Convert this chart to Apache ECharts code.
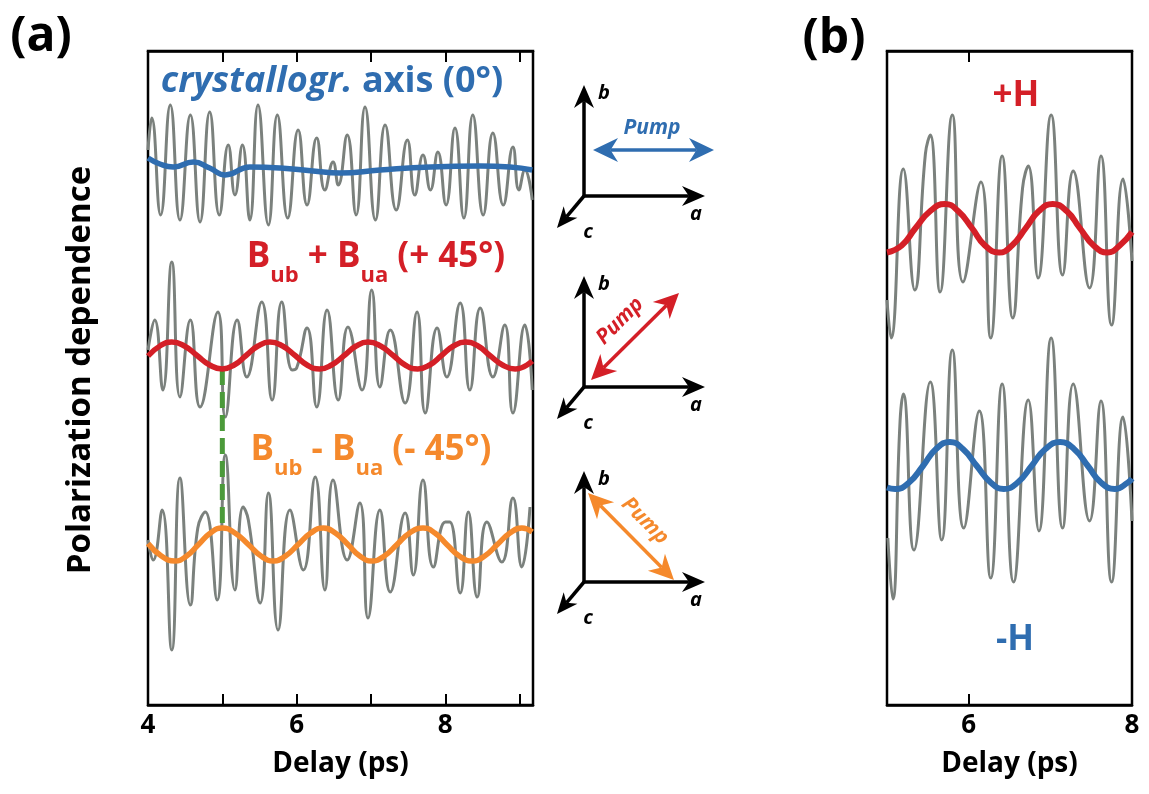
<!DOCTYPE html>
<html>
<head>
<meta charset="utf-8">
<script src="https://cdn.jsdelivr.net/npm/echarts/dist/echarts.min.js"></script>
<style>
  html, body { margin: 0; padding: 0; background: #fff; }
  #chartmain { width: 1149px; height: 794px; }
</style>
</head>
<body>
<div id="chartmain"></div>
<script>
// ---- data: [delay (ps), signal relative to the trace baseline (arb. u.)] ----

// panel (a), top: crystallographic axis (0°)
const grayCrystal = [
  [4.00, 3], [4.05, 9.4], [4.17, -10], [4.30, 12], [4.43, -11], [4.57, 10], [4.70, -11.4], [4.83, 10.6],
  [4.96, -10], [5.08, 4], [5.17, -6], [5.27, 4], [5.37, -11], [5.48, 12], [5.62, -12], [5.74, 10],
  [5.88, -10.6], [6.02, 7], [6.14, -8], [6.27, 5.4], [6.38, -5], [6.49, 0.6], [6.56, -4], [6.68, 6],
  [6.80, -10], [6.92, 11.6], [7.06, -11], [7.19, 8], [7.34, -9], [7.49, 5], [7.59, -6], [7.70, 2],
  [7.80, -5], [7.90, 2.6], [8.01, -8], [8.13, 7.4], [8.25, -10.6], [8.37, 10], [8.51, -10], [8.64, 6.4],
  [8.78, -8], [8.91, 3.6], [8.99, -5], [9.07, -1], [9.17, -7]
];
const fitCrystal = [
  [4.00, 1.4], [4.16, 0.2], [4.34, -0.4], [4.61, 0.6], [4.83, -0.6], [5.04, -2], [5.37, -0.4], [5.78, -0.6],
  [6.22, -1.2], [6.58, -1.6], [7.12, -1], [7.80, -0.4], [8.47, -0.2], [8.87, -0.4], [9.17, -1]
];

// panel (a), middle: Bub + Bua (+45°)
const grayPlus45 = [
  [4.00, 1], [4.09, 7], [4.20, -7], [4.32, 18.6], [4.43, -8.4], [4.57, 7], [4.70, -10.4], [4.94, 8.6],
  [5.04, -12.4], [5.20, 7], [5.33, -4.4], [5.53, 10.6], [5.67, -9], [5.80, 10.6], [5.94, -3], [6.00, -2.6],
  [6.14, 5.4], [6.27, -10.4], [6.41, 9], [6.56, -9], [6.69, 5.6], [6.88, -7], [7.01, 13], [7.12, -6.4],
  [7.26, 5], [7.46, -9.6], [7.62, 8.6], [7.73, -11.6], [7.89, 5.4], [8.02, -4.4], [8.20, 10.4], [8.33, -7],
  [8.47, 9.4], [8.64, -4.4], [8.80, 6], [8.91, -11.6], [9.07, 6], [9.17, -7]
];
const fitPlus45 = [
  [4.00, -0.2], [4.16, 1.8], [4.32, 2.6], [4.49, 1.8], [4.66, -0.1], [4.83, -2.0], [5.00, -2.8], [5.16, -2.0],
  [5.32, -0.1], [5.48, 1.8], [5.64, 2.6], [5.81, 1.8], [5.98, -0.1], [6.14, -2.0], [6.31, -2.8], [6.47, -2.0],
  [6.64, -0.1], [6.80, 1.8], [6.96, 2.6], [7.13, 1.8], [7.30, -0.1], [7.46, -2.0], [7.63, -2.8], [7.79, -2.0],
  [7.95, -0.1], [8.11, 1.8], [8.27, 2.6], [8.44, 1.8], [8.60, -0.1], [8.77, -2.0], [8.94, -2.8], [9.17, -1.2]
];

// panel (a), bottom: Bub - Bua (-45°)
const grayMinus45 = [
  [4.00, 1], [4.07, -3], [4.19, 7], [4.32, -21], [4.43, 13.4], [4.57, -12], [4.67, 3.4], [4.77, 6.6],
  [4.93, -11], [5.04, 18], [5.17, -9], [5.28, 7.6], [5.35, 5], [5.51, -11.6], [5.62, 10.4], [5.75, -17],
  [5.91, 7], [6.09, -5], [6.25, 13.6], [6.38, -9], [6.49, 13], [6.68, -3], [6.85, 8.4], [6.96, -14.6],
  [7.12, 7], [7.26, -9.4], [7.46, 6.4], [7.57, -6], [7.70, 13], [7.84, -4.4], [8.00, 4.6], [8.06, 4.6],
  [8.20, -9.6], [8.31, 6.6], [8.43, -10.4], [8.56, 4.6], [8.76, -3.4], [8.91, 9.4], [9.03, -4.4], [9.14, 7.6]
];
const fitMinus45 = [
  [4.00, 0.3], [4.18, -2.2], [4.36, -3.2], [4.52, -2.2], [4.68, 0.1], [4.84, 2.4], [5.00, 3.4], [5.17, 2.4],
  [5.35, 0.1], [5.52, -2.2], [5.69, -3.2], [5.85, -2.2], [6.02, 0.1], [6.19, 2.4], [6.36, 3.4], [6.52, 2.4],
  [6.69, 0.1], [6.85, -2.2], [7.01, -3.2], [7.18, -2.2], [7.35, 0.1], [7.52, 2.4], [7.70, 3.4], [7.86, 2.4],
  [8.02, 0.1], [8.19, -2.2], [8.36, -3.2], [8.53, -2.2], [8.70, 0.1], [8.87, 2.4], [9.03, 3.4], [9.17, 2.6]
];

// panel (b): +H and -H
const grayPlusH = [
  [5.00, -14.4], [5.05, -22], [5.20, 11.8], [5.34, -12.4], [5.47, 14.8], [5.53, 18.6], [5.65, -12.8], [5.80, 22.6],
  [5.93, -10.8], [6.15, 9.2], [6.27, -22], [6.41, 14.4], [6.54, -18], [6.66, 8], [6.73, 12.4], [6.85, -10],
  [7.01, 22.6], [7.15, -9.4], [7.28, 11.4], [7.48, -12], [7.62, 14.4], [7.75, -19.4], [7.89, 9.8], [8.00, -6.6]
];
const fitPlusH = [
  [5.00, -4.9], [5.18, -3.5], [5.35, 0], [5.53, 3.4], [5.71, 4.8], [5.87, 3.4], [6.04, 0], [6.20, -3.5],
  [6.37, -4.9], [6.53, -3.5], [6.70, 0], [6.86, 3.4], [7.03, 4.8], [7.20, 3.4], [7.36, 0], [7.53, -3.5],
  [7.70, -4.9], [7.85, -3.5], [8.00, -0.8]
];
const grayMinusH = [
  [5.01, -14.4], [5.07, -26.6], [5.16, 9], [5.20, 14.4], [5.33, -16.8], [5.53, 16.8], [5.67, -14.8], [5.80, 23.2],
  [5.94, -12.4], [6.13, 11], [6.27, -22.4], [6.41, 16.4], [6.55, -23.2], [6.73, 13.2], [6.86, -13], [7.01, 25.6],
  [7.15, -12.4], [7.28, 16.4], [7.48, -11], [7.62, 13], [7.75, -23.2], [7.89, 9.8], [8.00, -11]
];
const fitMinusH = [
  [5.00, -4.3], [5.10, -4.6], [5.27, -3.3], [5.44, 0], [5.60, 3.4], [5.77, 4.8], [5.93, 3.4], [6.10, 0],
  [6.27, -3.3], [6.43, -4.6], [6.60, -3.3], [6.77, 0], [6.94, 3.4], [7.12, 4.8], [7.29, 3.4], [7.46, 0],
  [7.62, -3.3], [7.79, -4.6], [7.95, -3.3], [8.00, -2.5]
];

// vertical offsets of the stacked traces
const baseCrystal = 108, basePlus45 = 70, baseMinus45 = 32;
const basePlusH = 95.4, baseMinusH = 47.8;

// delay marked by the green dashed line
const markDelay = 5.0;

// axis ticks / labels
const ticksA = [5, 6, 7, 8, 9], labelsA = [4, 6, 8];
const ticksB = [6, 8], labelsB = [6, 8];

// ---- drawing ----
const FONT = '"Open Sans", "Noto Sans", sans-serif';
const GRAY = '#7b817d', BLUE = '#2f6db0', RED = '#d41f27', ORANGE = '#f5892c', GREEN = '#4b9a3a';

const shift = (pts, base) => pts.map(p => [p[0], base + p[1]]);
const valueAt = (pts, base, t) => base + pts.find(p => p[0] === t)[1];

function line(name, pts, base, panel, color, width, z) {
  return {
    name: name, type: 'line', xAxisIndex: panel, yAxisIndex: panel,
    data: shift(pts, base), smooth: 0.5, symbol: 'none', silent: true, z: z,
    lineStyle: { color: color, width: width }
  };
}

function xAxisFor(panel, min, max, ticks, labels, top) {
  return {
    type: 'value', gridIndex: panel, min: min, max: max, position: top ? 'top' : 'bottom',
    axisLine: { show: true, lineStyle: { color: '#000', width: 2.5 } },
    axisTick: { show: true, inside: true, length: 11, customValues: ticks, lineStyle: { color: '#000', width: 2 } },
    axisLabel: {
      show: !top, customValues: labels, margin: 8,
      color: '#000', fontSize: 26, fontWeight: 'bold', fontFamily: FONT
    },
    splitLine: { show: false },
    name: top ? '' : 'Delay (ps)', nameLocation: 'middle', nameGap: 45,
    nameTextStyle: { color: '#000', fontSize: 28, fontWeight: 'bold', fontFamily: FONT }
  };
}

// arrow: shaft + swept heads
function arrow(x1, y1, x2, y2, color, w, both, L, W) {
  const len = Math.hypot(x2 - x1, y2 - y1);
  const ux = (x2 - x1) / len, uy = (y2 - y1) / len;
  const nx = -uy, ny = ux;
  const notch = L * 0.3;
  const head = (tx, ty, dx, dy) => ({
    type: 'polygon', silent: true,
    shape: { points: [
      [tx, ty],
      [tx - L * dx + W * nx, ty - L * dy + W * ny],
      [tx - (L - notch) * dx, ty - (L - notch) * dy],
      [tx - L * dx - W * nx, ty - L * dy - W * ny]
    ] },
    style: { fill: color }
  });
  const sx = both ? x1 + (L - notch) * ux : x1, sy = both ? y1 + (L - notch) * uy : y1;
  const out = [
    { type: 'line', silent: true, shape: { x1: sx, y1: sy, x2: x2 - (L - notch) * ux, y2: y2 - (L - notch) * uy },
      style: { stroke: color, lineWidth: w } },
    head(x2, y2, ux, uy)
  ];
  if (both) out.push(head(x1, y1, -ux, -uy));
  return out;
}

function label(x, y, text, font, color, rot) {
  return {
    type: 'text', x: x, y: y, rotation: rot || 0, silent: true,
    style: { text: text, font: font, fill: color, align: 'center', verticalAlign: 'middle',
             textAlign: 'center', textVerticalAlign: 'middle' }
  };
}

function richLabel(x, y, text, color, size) {
  return {
    type: 'text', x: x, y: y, silent: true,
    style: {
      text: text, fill: color, align: 'center', verticalAlign: 'middle',
      textAlign: 'center', textVerticalAlign: 'middle',
      font: 'bold ' + size + 'px ' + FONT,
      rich: {
        m: { fontSize: size, fontWeight: 'bold', fontFamily: FONT, color: color, lineHeight: size + 5, verticalAlign: 'top' },
        s: { fontSize: Math.round(size * 0.63), fontWeight: 'bold', fontFamily: FONT, color: color,
             padding: [Math.round(size * 0.72), 0, 0, 0], verticalAlign: 'top' },
        i: { fontSize: size, fontWeight: 'bold', fontStyle: 'italic', fontFamily: FONT, color: color }
      }
    }
  };
}

function axesDiagram(cx, cy) {
  const f = 'italic bold 20px ' + FONT;
  return [].concat(
    arrow(cx, cy, cx, cy - 111, '#000', 3.5, false, 23, 10),
    arrow(cx, cy, cx + 121, cy, '#000', 3.5, false, 23, 10),
    arrow(cx, cy, cx - 27, cy + 32, '#000', 3.5, false, 21, 9),
    [label(cx + 20, cy - 103, 'b', f, '#000'), label(cx + 112, cy + 18, 'a', f, '#000'), label(cx + 4, cy + 36, 'c', f, '#000')]
  );
}

const pumpFont = 'italic bold 21px ' + FONT;
const graphics = [].concat(
  [
    label(41, 37, '(a)', 'bold 48px ' + FONT, '#000'),
    label(834, 39, '(b)', 'bold 48px ' + FONT, '#000'),
    label(81, 370, 'Polarization dependence', 'bold 33px ' + FONT, '#000', Math.PI / 2),
    richLabel(332, 82, '{i|crystallogr.} axis (0°)', BLUE, 36),
    richLabel(376, 263, '{m|B}{s|ub}{m| + B}{s|ua}{m| (+ 45°)}', RED, 35),
    richLabel(371, 456, '{m|B}{s|ub}{m| - B}{s|ua}{m| (- 45°)}', ORANGE, 35),
    label(1016, 96, '+H', 'bold 35px ' + FONT, RED),
    label(1015, 640, '-H', 'bold 35px ' + FONT, BLUE)
  ],
  axesDiagram(584, 196),
  axesDiagram(584, 387),
  axesDiagram(584, 582),
  arrow(593, 150, 714, 150, BLUE, 3.5, true, 25, 12),
  [label(652, 128, 'Pump', pumpFont, BLUE)],
  arrow(591, 380, 679, 293, RED, 3.5, true, 25, 12),
  [label(620, 321, 'Pump', pumpFont, RED, Math.PI / 4)],
  arrow(588, 493, 674, 580, ORANGE, 3.5, true, 25, 12),
  [label(645, 521, 'Pump', pumpFont, ORANGE, -Math.PI / 4)]
);

const chart = echarts.init(document.getElementById('chartmain'), null, { renderer: 'canvas' });
chart.setOption({
  animation: false,
  backgroundColor: '#fff',
  grid: [
    { left: 148, top: 51, width: 385, height: 654, show: true, borderColor: '#000', borderWidth: 2.5 },
    { left: 887, top: 51, width: 245, height: 654, show: true, borderColor: '#000', borderWidth: 2.5 }
  ],
  xAxis: [
    xAxisFor(0, 4, 9.18, ticksA, labelsA, false),
    xAxisFor(1, 5, 8, ticksB, labelsB, false),
    xAxisFor(0, 4, 9.18, ticksA, labelsA, true),
    xAxisFor(1, 5, 8, ticksB, labelsB, true)
  ],
  yAxis: [
    { type: 'value', gridIndex: 0, min: 0, max: 130.8, show: false },
    { type: 'value', gridIndex: 1, min: 0, max: 130.8, show: false }
  ],
  series: [
    line('gray 0°', grayCrystal, baseCrystal, 0, GRAY, 3, 2),
    line('gray +45°', grayPlus45, basePlus45, 0, GRAY, 3, 2),
    line('gray -45°', grayMinus45, baseMinus45, 0, GRAY, 3, 2),
    {
      name: 'marker', type: 'line', xAxisIndex: 0, yAxisIndex: 0, symbol: 'none', silent: true, z: 3,
      data: [[markDelay, valueAt(fitPlus45, basePlus45, markDelay)], [markDelay, valueAt(fitMinus45, baseMinus45, markDelay)]],
      lineStyle: { color: GREEN, width: 5, type: [16, 7] }
    },
    line('fit 0°', fitCrystal, baseCrystal, 0, BLUE, 5.5, 4),
    line('fit +45°', fitPlus45, basePlus45, 0, RED, 5.5, 4),
    line('fit -45°', fitMinus45, baseMinus45, 0, ORANGE, 5.5, 4),
    line('gray +H', grayPlusH, basePlusH, 1, GRAY, 3, 2),
    line('gray -H', grayMinusH, baseMinusH, 1, GRAY, 3, 2),
    line('fit +H', fitPlusH, basePlusH, 1, RED, 6, 4),
    line('fit -H', fitMinusH, baseMinusH, 1, BLUE, 6, 4)
  ],
  graphic: graphics
});
</script>
</body>
</html>
